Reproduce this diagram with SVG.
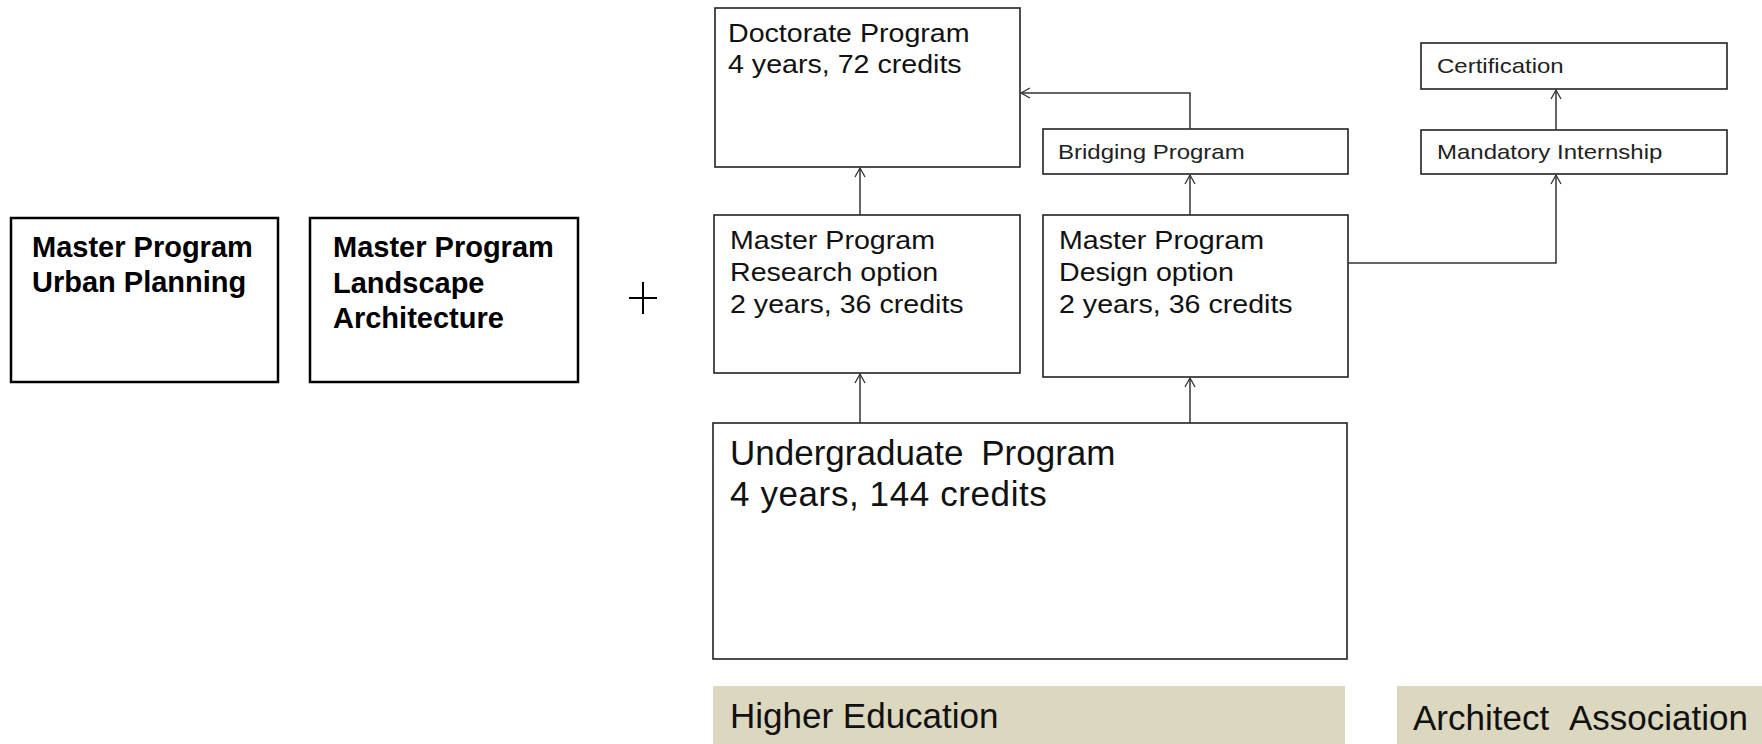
<svg xmlns="http://www.w3.org/2000/svg" width="1762" height="744" viewBox="0 0 1762 744">
<style>
  .lbox { fill: #fff; stroke: #000; stroke-width: 2.5; }
  .rbox { fill: #fff; stroke: #222; stroke-width: 1.6; }
  .band { fill: #DCD7BF; stroke: none; }
  .bold { font-family: "Liberation Sans", Arial, sans-serif; font-weight: bold; font-size: 29px; fill: #000; }
  .mid { font-family: "Liberation Sans", Arial, sans-serif; font-size: 26px; fill: #111; }
  .small { font-family: "Liberation Sans", Arial, sans-serif; font-size: 20px; fill: #222; }
  .big { font-family: "Liberation Sans", Arial, sans-serif; font-size: 35px; fill: #111; }
  .conn { fill: none; stroke: #333; stroke-width: 1.5; }
</style>
<defs>
  <marker id="arr" markerUnits="userSpaceOnUse" markerWidth="12" markerHeight="12" refX="10" refY="6" orient="auto">
    <path d="M1,1 L10,6 L1,11" fill="none" stroke="#333" stroke-width="1.3"/>
  </marker>
</defs>
<rect width="1762" height="744" fill="#fff"/>

<g id="urban-planning">
  <rect class="lbox" x="11" y="218" width="267" height="164"/>
  <text class="bold" x="32" y="257">Master Program<tspan x="32" y="292">Urban Planning</tspan></text>
</g>
<g id="landscape-architecture">
  <rect class="lbox" x="310" y="218" width="268" height="164"/>
  <text class="bold" x="333" y="257">Master Program<tspan x="333" y="292.5">Landscape</tspan><tspan x="333" y="328">Architecture</tspan></text>
</g>
<g id="plus">
  <path d="M629,298 H657 M643,282 V314" stroke="#000" stroke-width="2" fill="none"/>
</g>

<g id="doctorate">
  <rect class="rbox" x="715" y="8" width="305" height="159"/>
  <text class="mid" transform="translate(728 42) scale(1.1 1)">Doctorate Program<tspan x="0" y="31">4 years, 72 credits</tspan></text>
</g>
<g id="bridging">
  <rect class="rbox" x="1043" y="129" width="305" height="45"/>
  <text class="small" transform="translate(1058 159) scale(1.2 1)">Bridging Program</text>
</g>
<g id="certification">
  <rect class="rbox" x="1421" y="43" width="306" height="46"/>
  <text class="small" transform="translate(1437 73) scale(1.2 1)">Certification</text>
</g>
<g id="internship">
  <rect class="rbox" x="1421" y="130" width="306" height="44"/>
  <text class="small" transform="translate(1437 159) scale(1.2 1)">Mandatory Internship</text>
</g>
<g id="research">
  <rect class="rbox" x="714" y="215" width="306" height="158"/>
  <text class="mid" transform="translate(730 249) scale(1.1 1)">Master Program<tspan x="0" y="32">Research option</tspan><tspan x="0" y="64">2 years, 36 credits</tspan></text>
</g>
<g id="design">
  <rect class="rbox" x="1043" y="215" width="305" height="162"/>
  <text class="mid" transform="translate(1059 249) scale(1.1 1)">Master Program<tspan x="0" y="32">Design option</tspan><tspan x="0" y="64">2 years, 36 credits</tspan></text>
</g>
<g id="undergraduate">
  <rect class="rbox" x="713" y="423" width="634" height="236"/>
  <text class="big" x="730" y="465"><tspan word-spacing="8">Undergraduate Program</tspan><tspan x="730" y="506" letter-spacing="0.6">4 years, 144 credits</tspan></text>
</g>
<g id="higher-education">
  <rect class="band" x="713" y="686" width="632" height="58"/>
  <text class="big" x="730" y="728" font-size="33">Higher Education</text>
</g>
<g id="architect-association">
  <rect class="band" x="1397" y="686" width="365" height="58"/>
  <text class="big" x="1413" y="730" word-spacing="12">Architect Association</text>
</g>

<g id="connectors">
  <path class="conn" d="M860,215 V168" marker-end="url(#arr)"/>
  <path class="conn" d="M860,423 V374" marker-end="url(#arr)"/>
  <path class="conn" d="M1190,423 V378" marker-end="url(#arr)"/>
  <path class="conn" d="M1190,215 V175" marker-end="url(#arr)"/>
  <path class="conn" d="M1190,129 V93 H1021" marker-end="url(#arr)"/>
  <path class="conn" d="M1348,263 H1556 V175" marker-end="url(#arr)"/>
  <path class="conn" d="M1556,130 V90" marker-end="url(#arr)"/>
</g>
</svg>
